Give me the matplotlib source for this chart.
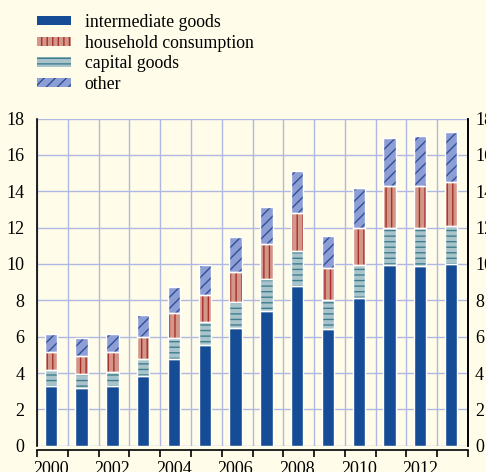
import matplotlib
matplotlib.use("Agg")
import matplotlib.pyplot as plt
from matplotlib.patches import Patch
import numpy as np

years = list(range(2000, 2014))
intermediate = [3.31, 3.15, 3.26, 3.83, 4.79, 5.55, 6.49, 7.40, 8.78, 6.45, 8.14, 9.93, 9.89, 9.98]
capital = [0.86, 0.81, 0.81, 0.96, 1.12, 1.27, 1.43, 1.79, 1.94, 1.56, 1.79, 2.04, 2.08, 2.09]
household = [0.99, 1.00, 1.09, 1.20, 1.38, 1.49, 1.64, 1.90, 2.06, 1.77, 2.04, 2.34, 2.31, 2.43]
other = [0.99, 0.94, 0.99, 1.19, 1.44, 1.62, 1.90, 2.06, 2.36, 1.77, 2.20, 2.62, 2.74, 2.79]
labels = ["intermediate goods", "household consumption", "capital goods", "other"]
yticks = list(range(0, 19, 2))

BG = "#fffde9"
GRID = "#aeb8e2"
styles = {
    "intermediate goods": dict(face="#164c95", hatch="", hcolor="#164c95"),
    "household consumption": dict(face="#d3978a", hatch="|||", hcolor="#a8302a"),
    "capital goods": dict(face="#a9c3cb", hatch="---", hcolor="#3f7f8c"),
    "other": dict(face="#8d9ed4", hatch="///", hcolor="#2f4f9a"),
}

plt.rcParams["font.family"] = ["Liberation Serif", "DejaVu Serif"]
plt.rcParams["hatch.linewidth"] = 1.0

fig = plt.figure(figsize=(4.86, 4.72), dpi=100, facecolor=BG)
ax = fig.add_axes([0.0761, 0.0557, 0.887, 0.693])
ax.set_facecolor(BG)

x = np.arange(len(years)) + 0.45
width = 0.40

# stacking order from the bottom: intermediate, capital, household, other
stack = [("intermediate goods", intermediate), ("capital goods", capital),
         ("household consumption", household), ("other", other)]
bottom = np.zeros(len(years))
for name, vals in stack:
    st = styles[name]
    vals = np.array(vals)
    ax.bar(x, vals, width, bottom=bottom, color=st["face"], hatch=st["hatch"],
           edgecolor=st["hcolor"], linewidth=0, zorder=3)
    ax.bar(x, vals, width, bottom=bottom, fill=False, edgecolor="white",
           linewidth=1.0, zorder=4)
    bottom += vals

ax.set_xlim(0, len(years))
ax.set_ylim(0, 18)
ax.set_yticks(yticks)
ax.set_yticklabels([str(v) for v in yticks])
ax.tick_params(axis="y", length=0, pad=9, labelsize=13)

# year boundaries as ticks, even years labelled under the bars
ax.set_xticks(np.arange(0, len(years) + 1))
ax.set_xticklabels([])
ax.tick_params(axis="x", which="major", length=5, direction="out", width=1.2, color="black")
ax.set_xticks(x[::2], minor=True)
ax.set_xticklabels([str(y) for y in years[::2]], minor=True)
ax.tick_params(axis="x", which="minor", length=0, pad=8, labelsize=13)

ax.grid(True, which="major", color=GRID, linewidth=1.0, zorder=0)
ax.set_axisbelow(True)

ax.spines["top"].set_visible(False)
for s in ["left", "right", "bottom"]:
    ax.spines[s].set_color("black")
    ax.spines[s].set_linewidth(1.2)
ax.spines["bottom"].set_position(("outward", 3))

ax2 = ax.twinx()
ax2.set_ylim(0, 18)
ax2.set_yticks(yticks)
ax2.set_yticklabels([str(v) for v in yticks])
ax2.tick_params(axis="y", length=0, pad=5, labelsize=13)
ax2.spines["top"].set_visible(False)
ax2.spines["left"].set_visible(False)
ax2.spines["bottom"].set_visible(False)
ax2.spines["right"].set_linewidth(1.2)

handles = [Patch(facecolor=styles[n]["face"], hatch=styles[n]["hatch"],
                 edgecolor=styles[n]["hcolor"], linewidth=0) for n in labels]
fig.legend(handles, labels, loc="upper left", bbox_to_anchor=(0.050, 0.997),
           frameon=False, fontsize=12.8, handlelength=1.9, handleheight=0.42,
           labelspacing=0.21, handletextpad=0.8, borderaxespad=0.3)

fig.savefig("out.png", dpi=100, facecolor=BG)
